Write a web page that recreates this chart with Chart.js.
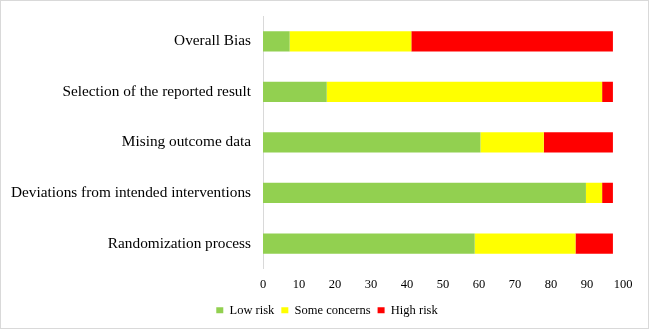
<!DOCTYPE html>
<html>
<head>
<meta charset="utf-8">
<script src="https://cdn.jsdelivr.net/npm/chart.js@4"></script>
<style>
  html, body { margin: 0; padding: 0; background: #fff; }
  #wrap { width: 649px; height: 329px; box-sizing: border-box; border: 1px solid #d9d9d9; }
</style>
</head>
<body>
<div id="wrap"><canvas id="robChart" width="647" height="327"></canvas></div>
<script>
const domains = ['Overall Bias', 'Selection of the reported result', 'Mising outcome data',
  'Deviations from intended interventions', 'Randomization process'];
const lowRisk = [7.4, 17.7, 60.4, 89.7, 58.8];
const someConcerns = [33.8, 76.5, 17.6, 4.5, 28.0];
const highRisk = [56.0, 3.0, 19.2, 3.0, 10.4];
const xTicks = [0, 10, 20, 30, 40, 50, 60, 70, 80, 90, 100];

const serif = 'Liberation Serif';

// legend sits a bit right of the canvas centre in the original
const shiftLegend = {
  id: 'shiftLegend',
  afterLayout(chart) { chart.legend.left += 30; }
};

new Chart(document.getElementById('robChart'), {
  type: 'bar',
  data: {
    labels: domains,
    datasets: [
      { label: 'Low risk', data: lowRisk, backgroundColor: '#92D050' },
      { label: 'Some concerns', data: someConcerns, backgroundColor: '#FFFF00' },
      { label: 'High risk', data: highRisk, backgroundColor: '#FF0000' }
    ]
  },
  plugins: [shiftLegend],
  options: {
    indexAxis: 'y',
    responsive: false,
    animation: false,
    datasets: { bar: { categoryPercentage: 0.8, barPercentage: 0.5 } },
    layout: { padding: { top: 15, left: 0, right: 25, bottom: 1.5 } },
    plugins: {
      legend: {
        position: 'bottom',
        labels: {
          boxWidth: 7, boxHeight: 6, padding: 7,
          color: '#000', font: { family: serif, size: 12.5 }
        }
      },
      tooltip: { enabled: false }
    },
    scales: {
      x: {
        stacked: true, min: 0, max: 100,
        afterBuildTicks: s => { s.ticks = xTicks.map(v => ({ value: v })); },
        afterFit: s => { s.paddingLeft = 0; s.paddingRight = 0; s.height -= 3.2; },
        grid: { display: false, drawTicks: false },
        border: { display: false },
        ticks: { padding: 8.2, color: '#000', font: { family: serif, size: 12.5 } }
      },
      y: {
        stacked: true,
        afterFit: s => { s.width = 262; s.paddingTop = 0; s.paddingBottom = 0; },
        grid: { display: false, drawTicks: false },
        border: { display: true, color: '#d9d9d9', width: 1 },
        ticks: { padding: 12, color: '#000', font: { family: serif, size: 15.3 } }
      }
    }
  }
});
</script>
</body>
</html>
